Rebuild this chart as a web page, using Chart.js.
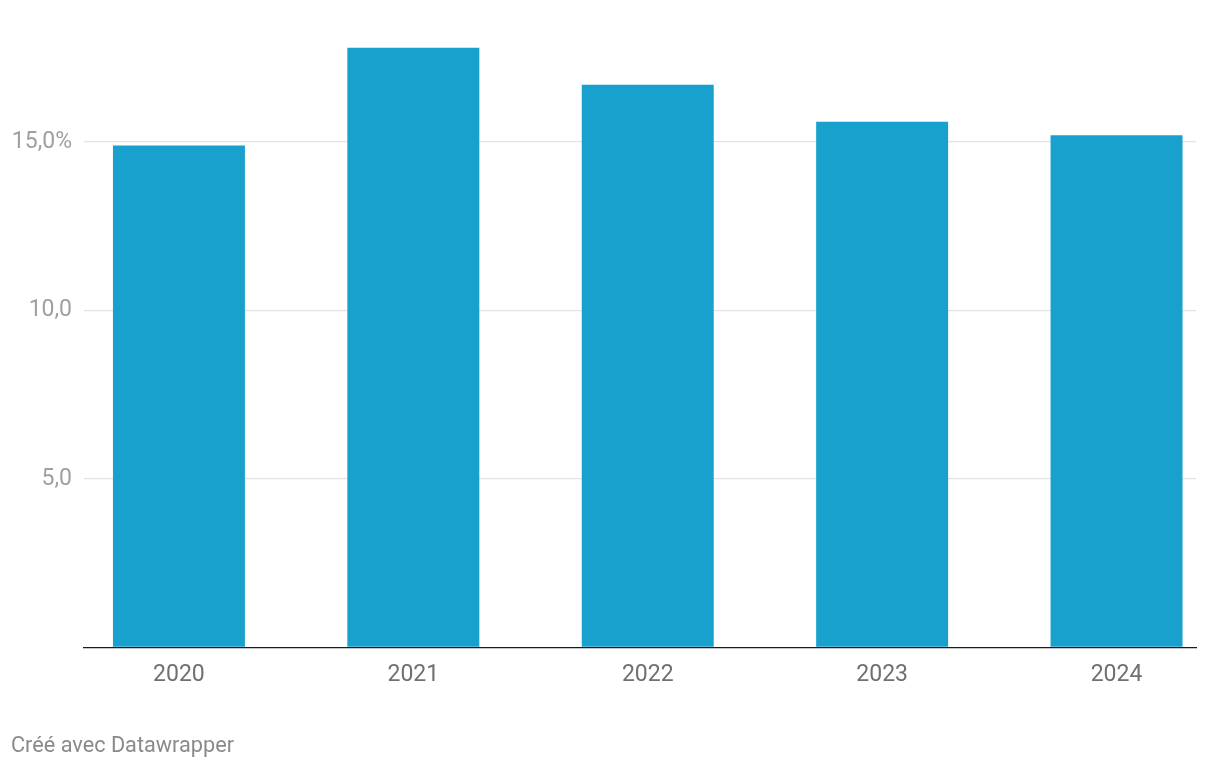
<!DOCTYPE html>
<html>
<head>
<meta charset="utf-8">
<script src="https://cdn.jsdelivr.net/npm/chart.js@4"></script>
<style>
  body { margin: 0; background: #fff; font-family: Roboto, sans-serif; }
  #wrap { position: relative; width: 1220px; height: 770px; }
  #credit { position: absolute; left: 11px; top: 732px; font-size: 21.7px; color: #8a8a8a; }
</style>
</head>
<body>
<div id="wrap">
  <canvas id="chart" width="1220" height="770"></canvas>
  <div id="credit">Créé avec Datawrapper</div>
</div>
<script>
// 데이터
const years = [2020, 2021, 2022, 2023, 2024];
const values = [14.9, 17.8, 16.7, 15.6, 15.2];
const yTicks = [5, 10, 15];
const yTickLabels = ['5,0', '10,0', '15,0%'];

const points = years.map((y, i) => ({ x: y, y: values[i] }));

new Chart(document.getElementById('chart'), {
    type: 'bar',
    data: {
        datasets: [{
            data: points,
            backgroundColor: '#18a1cd',
            barPercentage: 0.563,
            categoryPercentage: 1
        }]
    },
    options: {
        responsive: false,
        animation: false,
        layout: { padding: { top: 20, right: 24, bottom: 0, left: 0 } },
        plugins: { legend: { display: false }, tooltip: { enabled: false } },
        scales: {
            x: {
                type: 'linear',
                offset: false,
                min: 2019.595,
                max: 2024.339,
                afterFit: s => { s.height = 122.5; },
                grid: { display: false, drawTicks: false, offset: false },
                border: { display: true, color: '#1a1a1a', width: 1.3 },
                ticks: {
                    stepSize: 1,
                    includeBounds: false,
                    padding: 14,
                    color: '#707070',
                    font: { family: 'Roboto', size: 23 },
                    callback: v => String(v)
                }
            },
            y: {
                min: 0,
                max: 18.45,
                afterFit: s => { s.width = 84; },
                grid: {
                    drawTicks: false,
                    color: ctx => ctx.tick && ctx.tick.value === 0 ? 'rgba(0,0,0,0)' : '#e3e3e3',
                    lineWidth: 1.3
                },
                border: { display: false },
                ticks: {
                    stepSize: 5,
                    includeBounds: false,
                    padding: 12,
                    color: '#a0a0a0',
                    font: { family: 'Roboto', size: 23 },
                    callback: v => {
                        const i = yTicks.indexOf(v);
                        return i === -1 ? '' : yTickLabels[i];
                    }
                }
            }
        }
    }
});
</script>
</body>
</html>
